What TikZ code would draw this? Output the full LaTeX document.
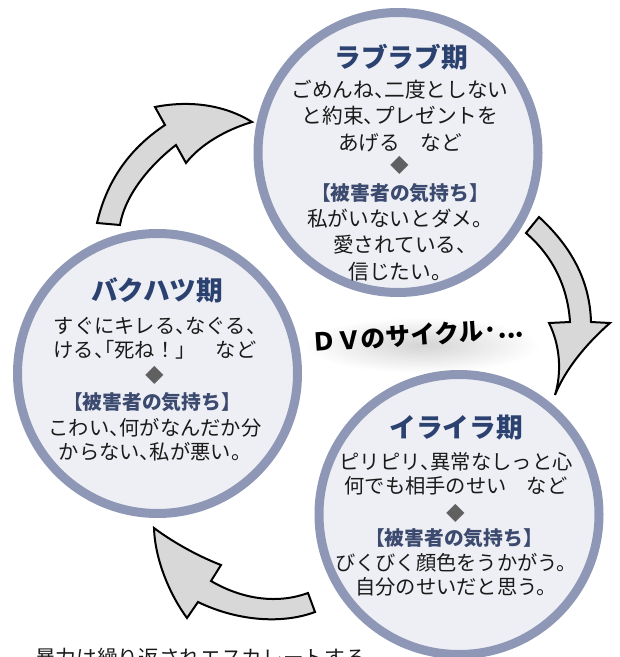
\documentclass[tikz,border=0pt]{standalone}
\usepackage{fontspec}
\setmainfont{Noto Sans CJK JP}
\newfontfamily\halfpunct{Noto Sans CJK JP}[RawFeature=+halt]
\newcommand{\hc}{{\halfpunct 、}}
\newcommand{\hq}{{\halfpunct 、「}}
\usetikzlibrary{shadings}
\definecolor{ringc}{HTML}{8E98B6}
\definecolor{fillc}{HTML}{EEEFF4}
\definecolor{titlec}{HTML}{2B4170}
\definecolor{headc}{HTML}{3B4A6E}
\definecolor{arrowc}{HTML}{D8D8D8}
\definecolor{txtc}{HTML}{1A1A1A}
\definecolor{diac}{HTML}{606060}
\begin{document}
\begin{tikzpicture}[x=0.75pt,y=-0.75pt,
  phase/.style={circle,draw=ringc,fill=fillc,line width=6.75pt,minimum size=210pt,inner sep=0pt},
  ttl/.style={text=titlec,font=\fontsize{20}{22}\selectfont\bfseries,inner sep=0pt},
  bodyA/.style={text=txtc,align=center,font=\fontsize{15.5}{20}\selectfont,inner sep=0pt},
  bodyB/.style={text=txtc,align=center,font=\fontsize{15.2}{18}\selectfont,inner sep=0pt},
  hdr/.style={text=headc,font=\fontsize{14.8}{16}\selectfont\bfseries,inner sep=0pt},
  dia/.style={text=diac,font=\fontsize{14}{16}\selectfont,inner sep=0pt},
  cyc/.style={draw=black,line width=1.5pt,fill=arrowc,line join=miter}
]
\useasboundingbox (0,0) rectangle (620,657);
\clip (0,0) rectangle (620,657);
% glow behind the cycle label
\shade[inner color=black!17,outer color=white] (422,345) ellipse (118 and 28);
% circles
\node[phase] (love) at (398,152.5) {};
\node[phase] (boom) at (157.5,373.5) {};
\node[phase] (irri) at (459,514.5) {};
% top circle texts
\node[ttl] (loveT) at (401,57) {ラブラブ期};
\node[bodyA] (loveB) at (400,116) {ごめんね\hc 二度としない\\と約束\hc プレゼントを\\あげる\quad など};
\node[dia] (loveD) at (400,165) {◆};
\node[hdr] (loveH) at (400,193) {【被害者の気持ち】};
\node[bodyA] (loveF) at (400,245) {私がいないとダメ。\\愛されている\hc \\信じたい。};
% left circle texts
\node[ttl] (boomT) at (157,290) {バクハツ期};
\node[bodyB] (boomB) at (155,338.5) {すぐにキレる\hc なぐる\hc \\ける\hq 死ね！」\quad など};
\node[dia] (boomD) at (155,375) {◆};
\node[hdr] (boomH) at (152,402) {【被害者の気持ち】};
\node[bodyB] (boomF) at (155,440) {こわい\hc 何がなんだか分\\からない\hc 私が悪い。};
% bottom right circle texts
\node[ttl] (irriT) at (456,428) {イライラ期};
\node[bodyB] (irriB) at (456,474) {ピリピリ\hc 異常なしっと心\\何でも相手のせい\quad など};
\node[dia] (irriD) at (456,513) {◆};
\node[hdr] (irriH) at (454,538) {【被害者の気持ち】};
\node[bodyB] (irriF) at (456,575) {びくびく顔色をうかがう。\\自分のせいだと思う。};
% cycle label
\node[text=black,font=\fontsize{18.5}{20}\selectfont\bfseries,rotate=4,inner sep=0pt] (dv) at (418,335) {ＤＶのサイクル·...};
% arrows
\draw[cyc] (97,223) .. controls (108,175) and (135,145) .. (165,125)
  -- (155,107) .. controls (190,100) and (225,105) .. (252,122)
  .. controls (225,130) and (200,145) .. (186,163)
  -- (176,145) .. controls (150,165) and (125,195) .. (120,225) -- cycle;
\draw[cyc] (539,217) .. controls (575,250) and (590,285) .. (591,322)
  -- (610,323) .. controls (585,345) and (565,370) .. (555,395)
  .. controls (562,372) and (560,345) .. (549,323)
  -- (570,322) .. controls (568,290) and (555,258) .. (526,233) -- cycle;
\draw[cyc] (308,593) .. controls (275,605) and (240,598) .. (211,581)
  -- (221,565) .. controls (195,555) and (170,540) .. (154,528)
  .. controls (155,560) and (170,595) .. (187,618)
  -- (198,602) .. controls (235,620) and (280,625) .. (315,612) -- cycle;
% bottom caption
\node[anchor=west,text=txtc,font=\fontsize{15.5}{18}\selectfont,inner sep=0pt] (esc) at (35,658) {暴力は繰り返されエスカレートする…};
\end{tikzpicture}
\end{document}
